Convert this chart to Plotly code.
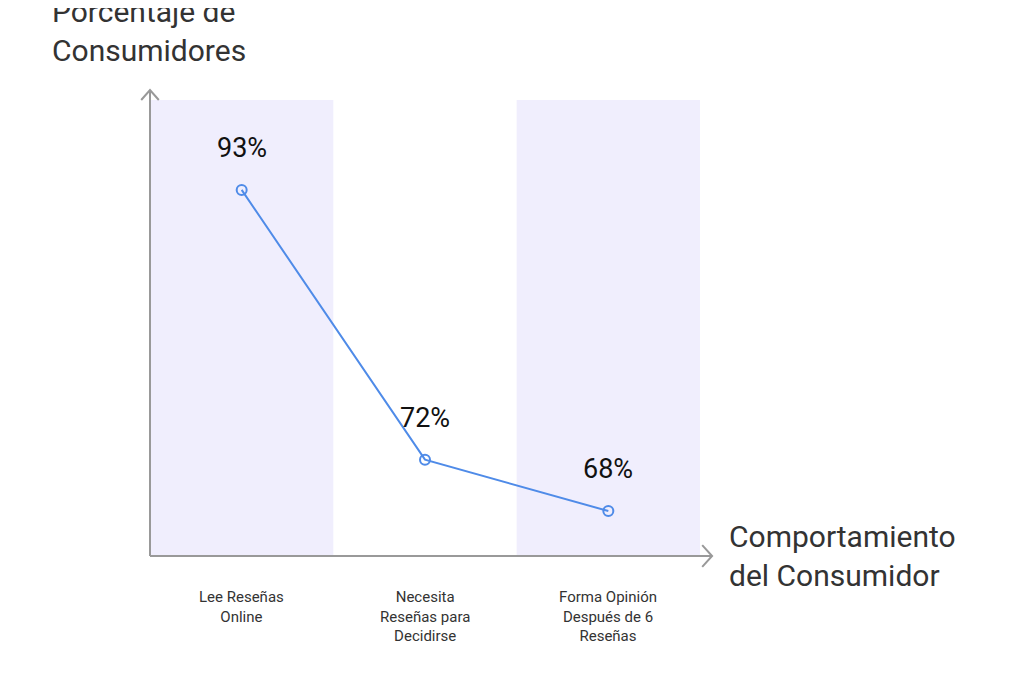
import plotly.graph_objects as go

categories = ["Lee Reseñas<br>Online", "Necesita<br>Reseñas para<br>Decidirse", "Forma Opinión<br>Después de 6<br>Reseñas"]
values = [93, 72, 68]
value_labels = ["93%", "72%", "68%"]

x_pos = list(range(len(categories)))
line_color = "#4f8be8"
axis_color = "#999999"
text_color = "#333333"

fig = go.Figure()

# shaded bands behind first and last category
for i in (0, 2):
    fig.add_shape(type="rect", xref="x", yref="paper", x0=i - 0.5, x1=i + 0.5, y0=0, y1=1,
                  fillcolor="#f0eefd", line_width=0, layer="below")

fig.add_trace(go.Scatter(
    x=x_pos, y=values, mode="lines+markers",
    line=dict(color=line_color, width=2),
    marker=dict(symbol="circle-open", size=10, color=line_color, line=dict(width=2)),
    hoverinfo="skip",
))

for xi, v, lab in zip(x_pos, values, value_labels):
    fig.add_annotation(x=xi, y=v, text=lab, showarrow=False, yshift=42,
                       font=dict(size=27, color="#111111"))

for xi, cat in zip(x_pos, categories):
    fig.add_annotation(x=xi, y=0, yref="paper", text=cat, showarrow=False,
                       yanchor="top", yshift=-30, font=dict(size=15, color=text_color))

# axes with open arrowheads
fig.add_shape(type="line", xref="paper", yref="paper", x0=0, y0=0, x1=1.022, y1=0,
              line=dict(color=axis_color, width=2))
fig.add_shape(type="line", xref="paper", yref="paper", x0=0, y0=0, x1=0, y1=1.022,
              line=dict(color=axis_color, width=2))
fig.add_shape(type="path", xref="paper", yref="paper",
              path="M 1.004 0.024 L 1.022 0 L 1.004 -0.024", line=dict(color=axis_color, width=2))
fig.add_shape(type="path", xref="paper", yref="paper",
              path="M -0.016 1.0 L 0 1.022 L 0.016 1.0", line=dict(color=axis_color, width=2))

fig.add_annotation(x=-0.182, y=1.066, xref="paper", yref="paper", text="Porcentaje de<br>Consumidores",
                   showarrow=False, xanchor="left", yanchor="bottom", align="left",
                   font=dict(size=30, color=text_color))
fig.add_annotation(x=1.049, y=0.0, xref="paper", yref="paper", text="Comportamiento<br>del Consumidor",
                   showarrow=False, xanchor="left", yanchor="middle", align="left",
                   font=dict(size=30, color=text_color))

fig.update_xaxes(range=[-0.5, 2.5], visible=False)
fig.update_yaxes(range=[64.5, 100], visible=False)
fig.update_layout(
    width=1024, height=698,
    margin=dict(l=142, r=332, t=92, b=150),
    plot_bgcolor="white", paper_bgcolor="white",
    showlegend=False,
    font=dict(family="Roboto"),
)

fig.write_html("out.html")
